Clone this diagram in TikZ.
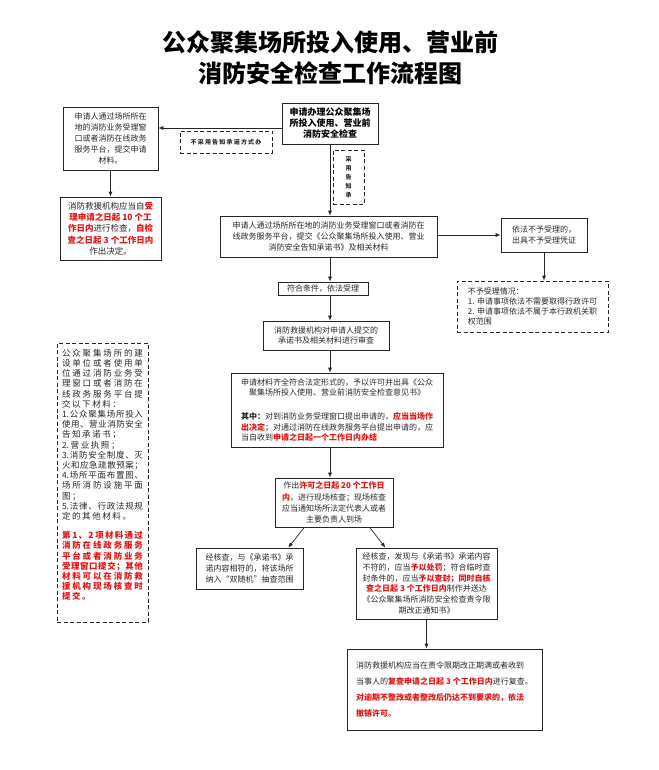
\documentclass[tikz,border=0pt]{standalone}
\usepackage{fontspec}
\setmainfont{Noto Sans CJK SC}
\usetikzlibrary{arrows.meta,calc}
\definecolor{myred}{RGB}{228,20,20}
\definecolor{ink}{RGB}{40,40,40}
\newcommand\rb[1]{\textcolor{myred}{\bfseries #1}}
% character classes for CJK ideographs and punctuation
\newcount\mycc
\mycc="4E00
\loop
  \XeTeXcharclass\mycc=1
  \advance\mycc by 1
\ifnum\mycc<"A000 \repeat
\XeTeXcharclass"3001=3
\XeTeXcharclass"3002=3
\XeTeXcharclass"FF0C=3
\XeTeXcharclass"FF1A=3
\XeTeXcharclass"FF1B=3
\def\cjkglue{\hskip 1.6pt plus 1fil minus 1.6pt}
\XeTeXinterchartoks 1 1 = {\cjkglue}
\XeTeXinterchartoks 1 3 = {\cjkglue}
\XeTeXinterchartoks 3 1 = {\cjkglue}
\XeTeXinterchartoks 0 1 = {\cjkglue}
\XeTeXinterchartoks 1 0 = {\cjkglue}
\XeTeXinterchartoks 3 0 = {\cjkglue}
\XeTeXinterchartoks 0 3 = {\cjkglue}
\newcommand\jf[1]{\hbox to 81pt{\XeTeXinterchartokenstate=1 #1}}
\newcommand\jn[1]{\hbox{\XeTeXinterchartokenstate=1 #1}}
\newcommand\jr[1]{\hbox to 81pt{\XeTeXinterchartokenstate=1 \color{myred}\bfseries #1}}
\newcommand\jrn[1]{\hbox{\XeTeXinterchartokenstate=1 \color{myred}\bfseries #1}}
\begin{document}
\begin{tikzpicture}[x=1pt,y=-1pt,
  box/.style={draw=black!85, line width=0.7pt, align=center, inner sep=0pt, text=ink},
  dbox/.style={box, dash pattern=on 4pt off 2.5pt},
  arr/.style={-{Latex[length=5pt,width=4pt]}, line width=0.7pt, draw=black!85},
  fe/.style={font=\fontsize{8}{10.8}\selectfont},
  ttl/.style={font=\fontsize{24}{30}\selectfont\bfseries, text=black}]
\useasboundingbox (0,0) rectangle (658,770);
\fill[white] (0,0) rectangle (658,770);

% title
\node[ttl] (t1) at (330,42) {公众聚集场所投入使用、营业前};
\node[ttl] (t2) at (330,73) {消防安全检查工作流程图};

% helper coordinates
\coordinate (mx) at (330,0);
\coordinate (hy) at (0,128);

% top start box
\node[box, minimum width=96pt, minimum height=41pt, text=black,
      font=\fontsize{9}{11}\selectfont\bfseries] (top) at (330,123.5)
  {申请办理公众聚集场\\所投入使用、营业前\\消防安全检查};

% dashed labels
\node[dbox, minimum width=92pt, minimum height=22pt,
      font=\fontsize{6}{7}\selectfont\bfseries\addfontfeatures{LetterSpace=20}] (nd) at (226,142)
  {不采用告知承诺方式办};
\node[dbox, minimum width=31pt, minimum height=54pt,
      font=\fontsize{6}{9}\selectfont\bfseries] (yd) at (348.5,177)
  {采\\用\\告\\知\\承};

% left column
\node[box, minimum width=95pt, minimum height=63pt, fe] (l1) at (110.5,138.5)
  {申请人通过场所所在\\地的消防业务受理窗\\口或者消防在线政务\\服务平台，提交申请\\材料。};
\node[box, minimum width=101pt, minimum height=63pt,
      font=\fontsize{8.5}{11.3}\selectfont] (l2) at (110.5,228.5)
  {消防救援机构应当自\rb{受}\\\rb{理申请之日起 10 个工}\\\rb{作日内}进行检查，\rb{自检}\\\rb{查之日起 3 个工作日内}\\作出决定。};

% wide box
\node[box, minimum width=217pt, minimum height=41pt, fe] (w) at (328.5,236.5)
  {申请人通过场所所在地的消防业务受理窗口或者消防在\\线政务服务平台，提交《公众聚集场所投入使用、营业\\消防安全告知承诺书》及相关材料};

% right boxes
\node[box, minimum width=86pt, minimum height=34pt, fe] (r1) at (544,235)
  {依法不予受理的，\\出具不予受理凭证};
\node[dbox, minimum width=151pt, minimum height=51pt, align=left,
      font=\fontsize{8}{10.3}\selectfont] (rd) at (532.5,306.5)
  {不予受理情况：\\1. 申请事项依法不需要取得行政许可\\2. 申请事项依法不属于本行政机关职\\权范围};

% main column
\node[box, minimum width=90pt, minimum height=13pt, fe] (acc) at (323,288.5)
  {符合条件，依法受理};
\node[box, minimum width=126pt, minimum height=29pt, fe] (rev) at (326,335.5)
  {消防救援机构对申请人提交的\\承诺书及相关材料进行审查};
\node[box, minimum width=212pt, minimum height=74pt, font=\fontsize{8}{10.6}\selectfont] (main) at (337,410)
  {申请材料齐全符合法定形式的，予以许可并出具《公众\\聚集场所投入使用、营业前消防安全检查意见书》\\[13pt]
   \textbf{其中：}对到消防业务受理窗口提出申请的，\rb{应当当场作}\\
   \rb{出决定}；对通过消防在线政务服务平台提出申请的，应\\
   \makebox[24em][l]{当自收到\rb{申请之日起一个工作日内办结}}};
\node[box, minimum width=118pt, minimum height=49pt,
      font=\fontsize{8}{11.3}\selectfont] (chk) at (334,502.5)
  {作出\rb{许可之日起 20 个工作日}\\\rb{内}，进行现场核查；现场核查\\应当通知场所法定代表人或者\\主要负责人到场};
\node[box, minimum width=107pt, minimum height=41pt, fe] (ok) at (249.5,568.5)
  {经核查，与《承诺书》承\\诺内容相符的，将该场所\\纳入“双随机”抽查范围};
\node[box, minimum width=141pt, minimum height=71pt, fe] (bad) at (426.5,583.5)
  {经核查，发现与《承诺书》承诺内容\\不符的，应当\rb{予以处罚}；符合临时查\\封条件的，应当\rb{予以查封；同时自核}\\\rb{查之日起 3 个工作日内}制作并送达\\《公众聚集场所消防安全检查责令限\\期改正通知书》};
\node[box, minimum width=195pt, minimum height=81pt, align=left,
      font=\fontsize{8}{16}\selectfont] (fin) at (444.5,689.5)
  {消防救援机构应当在责令限期改正期满或者收到\\当事人的\rb{复查申请之日起 3 个工作日内}进行复查。\\\rb{对逾期不整改或者整改后仍达不到要求的，依法}\\\rb{撤销许可。}};

% left dashed materials box
\node[dbox, minimum width=91pt, minimum height=279pt, align=left,
      font=\fontsize{8.5}{10.2}\selectfont] (ld) at (102.5,482.5)
  {\jf{公众聚集场所的建}\\
   \jf{设单位或者使用单}\\
   \jf{位通过消防业务受}\\
   \jf{理窗口或者消防在}\\
   \jf{线政务服务平台提}\\
   \jn{交以下材料：}\\
   \jf{1.公众聚集场所投入}\\
   \jf{使用、营业消防安全}\\
   \jn{告知承诺书；}\\
   \jn{2.营业执照；}\\
   \jf{3.消防安全制度、灭}\\
   \jf{火和应急疏散预案；}\\
   \jf{4.场所平面布置图、}\\
   \jf{场所消防设施平面}\\
   \jn{图；}\\
   \jf{5.法律、行政法规规}\\
   \jn{定的其他材料。}\\[9pt]
   \jr{第 1、2 项材料通过}\\
   \jr{消防在线政务服务}\\
   \jr{平台或者消防业务}\\
   \jr{受理窗口提交；其他}\\
   \jr{材料可以在消防救}\\
   \jr{援机构现场核查时}\\
   \jrn{提交。}\\[6pt]\mbox{}};

% connectors
\draw[arr] (top.west |- hy) -- (l1.east |- hy);
\draw[arr] (l1.south) -- (l2.north);
\draw[arr] (top.south) -- (top.south |- w.north);
\draw[arr] (w.east |- r1.west) -- (r1.west);
\draw[arr] (r1.south) -- (r1.south |- rd.north);
\draw[arr] (w.south -| mx) -- (acc.north -| mx);
\draw[arr] (acc.south -| mx) -- (rev.north -| mx);
\draw[arr] (rev.south -| mx) -- (main.north -| mx);
\draw[arr] (main.south -| mx) -- (chk.north -| mx);
\draw[arr] ($(chk.south west)!0.25!(chk.south east)$) -- ($(ok.north west)!0.86!(ok.north east)$);
\draw[arr] ($(chk.south west)!0.8!(chk.south east)$) -- ($(bad.north west)!0.21!(bad.north east)$);
\draw[arr] (bad.south) -- (bad.south |- fin.north);
\end{tikzpicture}
\end{document}
